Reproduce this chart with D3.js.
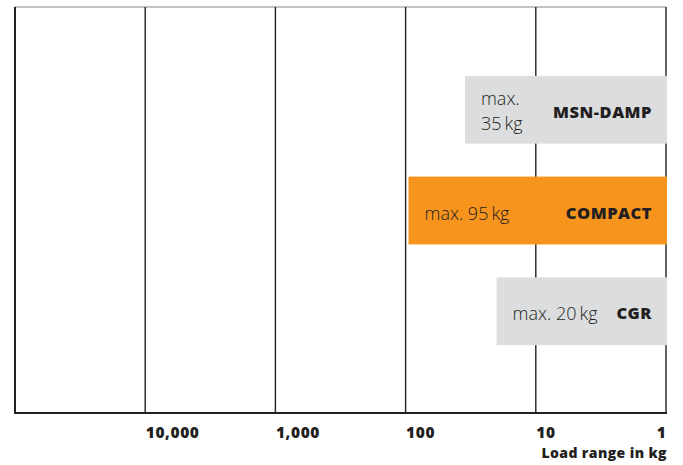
<!DOCTYPE html>
<html>
<head>
<meta charset="utf-8">
<script src="https://cdn.jsdelivr.net/npm/d3@7/dist/d3.min.js"></script>
<style>
  body { margin: 0; background: #fff; }
  svg { display: block; }
  .lbl { font-family: "Open Sans", sans-serif; font-weight: 300; font-size: 18px; fill: #231f20; }
  .name { font-family: "Open Sans", sans-serif; font-weight: 800; font-size: 16.5px; letter-spacing: 0.5px; fill: #231f20; }
  .tick text { font-family: "Open Sans", sans-serif; font-weight: 800; font-size: 15.5px; letter-spacing: 0.6px; fill: #231f20; }
  .axis-title { font-family: "Open Sans", sans-serif; font-weight: 800; font-size: 14px; letter-spacing: 0.4px; fill: #231f20; }
</style>
</head>
<body>
<div id="chart"></div>
<script>

// data
let products = ["MSN-DAMP", "COMPACT", "CGR"];
let maxLoad = [35, 95, 20];
let loadLabels = [["max.", "35\u2009kg"], ["max. 95\u2009kg"], ["max. 20\u2009kg"]];
let barColors = ["#dcdddf", "#f7941d", "#dcdddf"];
let tickValues = [10000, 1000, 100, 10, 1];
let tickLabels = ["10,000", "1,000", "100", "10", "1"];
let gridValues = [100000, 10000, 1000, 100, 10, 1];

let svgWidth = 683, svgHeight = 465;
let plotLeft = 15, plotRight = 666, plotTop = 7, plotBottom = 413;

let x = d3.scaleLog().domain([1, 100000]).range([plotRight, plotLeft]);
let y = d3.scaleBand().domain(products).range([plotTop + 1, plotBottom])
    .paddingInner(0.327).paddingOuter(0.673);

let svg = d3.select("#chart").append("svg")
    .attr("width", svgWidth)
    .attr("height", svgHeight);

// top rule
svg.append("line")
    .attr("x1", plotLeft).attr("x2", plotRight)
    .attr("y1", plotTop).attr("y2", plotTop)
    .attr("stroke", "#8a8a8a")
    .attr("stroke-width", 1.2);

// vertical grid lines
svg.selectAll(".grid")
    .data(gridValues)
    .enter()
    .append("line")
    .attr("class", "grid")
    .attr("x1", d => x(d)).attr("x2", d => x(d))
    .attr("y1", plotTop).attr("y2", plotBottom)
    .attr("stroke", "#231f20")
    .attr("stroke-width", d => d === 100000 ? 2 : 1.4);

// bottom axis line
svg.append("line")
    .attr("x1", plotLeft - 1).attr("x2", plotRight + 1)
    .attr("y1", plotBottom).attr("y2", plotBottom)
    .attr("stroke", "#231f20")
    .attr("stroke-width", 2);

// bars
let bars = svg.selectAll(".bar")
    .data(products)
    .enter()
    .append("g")
    .attr("class", "bar");

bars.append("rect")
    .attr("x", (d, i) => x(maxLoad[i]))
    .attr("y", d => y(d))
    .attr("width", (d, i) => x(1) - x(maxLoad[i]) + 1)
    .attr("height", y.bandwidth())
    .attr("fill", (d, i) => barColors[i]);

bars.append("text")
    .attr("class", "name")
    .attr("x", plotRight - 14)
    .attr("y", d => y(d) + y.bandwidth() / 2 + 8)
    .attr("text-anchor", "end")
    .text(d => d);

bars.each(function(d, i) {
    let lines = loadLabels[i];
    let cy = y(d) + y.bandwidth() / 2;
    let t = d3.select(this).append("text")
        .attr("class", "lbl")
        .attr("x", x(maxLoad[i]) + 16)
        .attr("y", lines.length > 1 ? cy - 4.5 : cy + 9);
    t.selectAll("tspan")
        .data(lines)
        .enter()
        .append("tspan")
        .attr("x", x(maxLoad[i]) + 16)
        .attr("dy", (l, j) => j === 0 ? 0 : 25)
        .text(l => l);
});

// tick labels
let axis = svg.append("g")
    .attr("transform", "translate(0," + plotBottom + ")")
    .call(d3.axisBottom(x)
        .tickValues(tickValues)
        .tickFormat((d, i) => tickLabels[i])
        .tickSize(0));
axis.select(".domain").remove();
axis.selectAll(".tick text")
    .attr("y", 25)
    .attr("dy", 0)
    .attr("text-anchor", (d, i) => i === tickValues.length - 1 ? "end" : "start");

svg.append("text")
    .attr("class", "axis-title")
    .attr("x", plotRight + 1)
    .attr("y", 458)
    .attr("text-anchor", "end")
    .text("Load range in kg");

</script>
</body>
</html>
